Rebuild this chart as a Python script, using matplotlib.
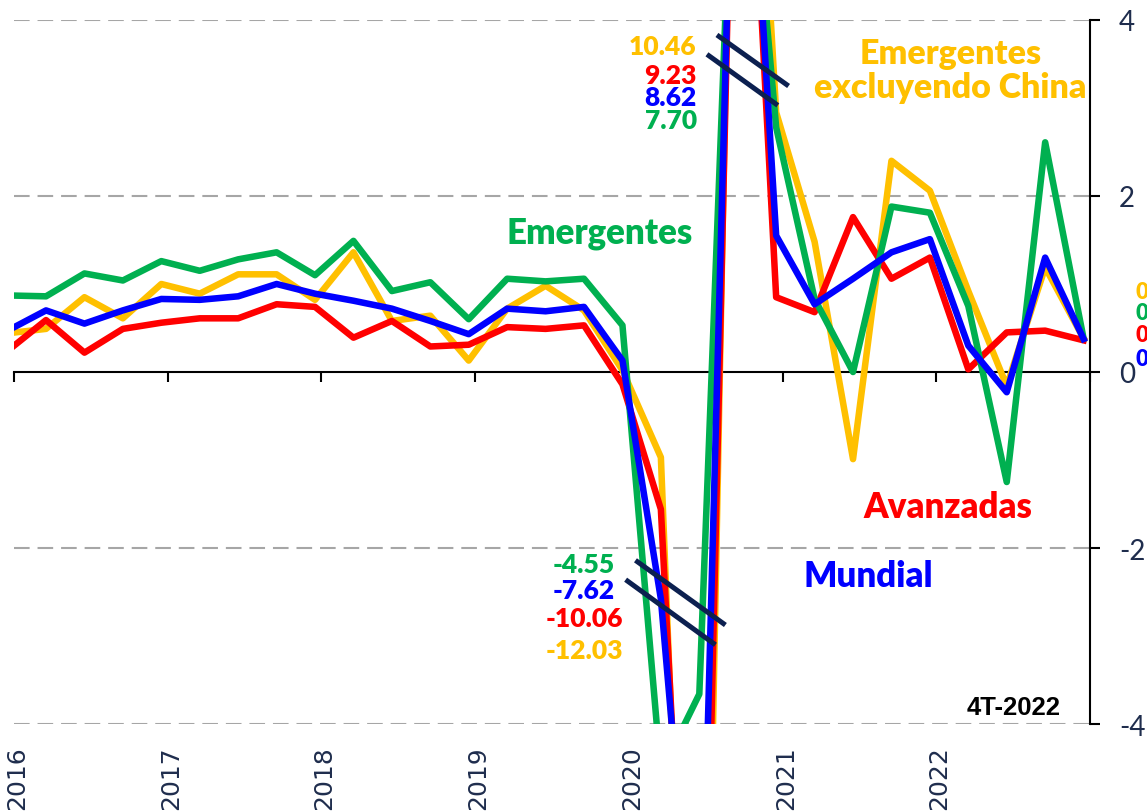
import numpy as np
import matplotlib
matplotlib.use("Agg")
import matplotlib.pyplot as plt
from matplotlib.transforms import blended_transform_factory

plt.rcParams['font.family'] = ['Lato', 'DejaVu Sans']

# ===================== DATA =====================
# quarterly growth (%), 4T-2015 ... 4T-2022
years = [2016, 2017, 2018, 2019, 2020, 2021, 2022]
n_q = 29
quarters = np.array([2015 + (k + 4) / 4 - 1 / 24 for k in range(n_q)])

emerg_ex_china = [0.44, 0.49, 0.85, 0.61, 1.00, 0.89, 1.11, 1.11, 0.82, 1.36,
                  0.58, 0.64, 0.13, 0.72, 0.98, 0.70, 0.02, -0.97, -12.03, 10.46,
                  2.95, 1.48, -0.99, 2.40, 2.06, 0.92, -0.16, 1.19, 0.38]
avanzadas = [0.24, 0.59, 0.22, 0.49, 0.56, 0.61, 0.61, 0.77, 0.74, 0.39,
             0.58, 0.29, 0.31, 0.51, 0.49, 0.53, -0.14, -1.56, -10.06, 9.23,
             0.85, 0.68, 1.76, 1.06, 1.30, 0.03, 0.45, 0.47, 0.36]
emergentes = [0.87, 0.86, 1.12, 1.04, 1.26, 1.15, 1.28, 1.36, 1.10, 1.49,
              0.92, 1.02, 0.60, 1.06, 1.03, 1.06, 0.53, -4.55, -3.66, 7.70,
              2.78, 0.83, 0.00, 1.88, 1.81, 0.75, -1.25, 2.61, 0.38]
mundial = [0.47, 0.70, 0.55, 0.70, 0.83, 0.82, 0.86, 1.00, 0.89, 0.81,
           0.72, 0.58, 0.43, 0.72, 0.69, 0.74, 0.13, -2.58, -7.62, 8.62,
           1.55, 0.77, 1.06, 1.36, 1.51, 0.30, -0.23, 1.30, 0.375]

last_labels = ['0.38', '0.38', '0.36', '0.37']

# ===================== STYLE =====================
YEL = '#FFC000'
GRN = '#00B050'
RED = '#FF0000'
BLU = '#0000FF'
NAVY = '#1F2D4D'
BRK = '#0C2050'
WT = 'heavy'

fig = plt.figure(figsize=(11.47, 8.12), dpi=100)
ax = fig.add_axes([14 / 1147, 1 - 725 / 812, (1090 - 14) / 1147, 704 / 812])

# grid
for g in [4, 2, -2, -4]:
    ax.axhline(g, color='#A6A6A6', lw=1.5, dashes=(7.5, 3.8), zorder=1)

# series
ax.plot(quarters, emerg_ex_china, color=YEL, lw=4.7, zorder=3)
ax.plot(quarters, avanzadas, color=RED, lw=4.7, zorder=4)
ax.plot(quarters, emergentes, color=GRN, lw=4.7, zorder=5)
ax.plot(quarters, mundial, color=BLU, lw=4.7, zorder=6)

ax.set_xlim(2016, 2023)
ax.set_ylim(-4, 4)

# axes
for s in ['top', 'left']:
    ax.spines[s].set_visible(False)
ax.spines['bottom'].set_position(('data', 0))
ax.spines['bottom'].set_linewidth(1.5)
ax.spines['right'].set_linewidth(1.5)
ax.spines['bottom'].set_zorder(2)

ax.set_xticks(years + [2023])
ax.tick_params(axis='x', direction='out', length=7, width=1.5, labelbottom=False)
ax.yaxis.tick_right()
ax.set_yticks([4, 2, 0, -2, -4])
ax.set_yticklabels(['4', '2', '0', '-2', '-4'])
ax.tick_params(axis='y', direction='out', length=7, width=1.5, pad=14,
               labelsize=20, labelcolor=NAVY)

# year labels at the bottom
trans = blended_transform_factory(ax.transData, ax.transAxes)
for y in years:
    ax.text(y + 0.02, -0.03, str(y), transform=trans, rotation=90, ha='center',
            va='top', fontsize=18, color=NAVY, family='DejaVu Sans')

# break marks
breaks = [((2020.573, 3.83), (2021.039, 3.25)),
          ((2020.508, 3.61), (2020.969, 3.03)),
          ((2020.043, -2.14), (2020.628, -2.875)),
          ((2019.979, -2.36), (2020.563, -3.10))]
for (x0, y0), (x1, y1) in breaks:
    ax.plot([x0, x1], [y0, y1], color=BRK, lw=3.6, zorder=8, solid_capstyle='butt')

# off-scale values
top_vals = [('10.46', YEL, 3.70), ('9.23', RED, 3.375), ('8.62', BLU, 3.13), ('7.70', GRN, 2.86)]
for txt, c, yy in top_vals:
    ax.text(2020.442, yy, txt, color=c, fontsize=19, fontweight=WT, ha='right', va='center')

bot_vals = [('-4.55', GRN, -2.18), ('-7.62', BLU, -2.477), ('-10.06', RED, -2.795), ('-12.03', YEL, -3.16)]
for txt, c, yy in bot_vals:
    ax.text(2019.708, yy, txt, color=c, fontsize=19, fontweight=WT, ha='center', va='center')

# series names
ax.text(2019.812, 1.58, 'Emergentes', color=GRN, fontsize=25, fontweight=WT, ha='center', va='center')
ax.text(2022.091, 3.43, 'Emergentes\nexcluyendo China', color=YEL, fontsize=24.5, fontweight=WT,
        ha='center', va='center', linespacing=1.1)
ax.text(2022.078, -1.534, 'Avanzadas', color=RED, fontsize=25, fontweight=WT, ha='center', va='center')
ax.text(2021.558, -2.318, 'Mundial', color=BLU, fontsize=25, fontweight=WT, ha='center', va='center')
ax.text(2022.812, -3.807, '4T-2022', color='black', fontsize=18.5, fontweight='bold', ha='right',
        va='center', family='Liberation Sans')

# last values (cut off at the right edge)
for txt, c, yy in zip(last_labels, [YEL, GRN, RED, BLU], [0.91, 0.68, 0.43, 0.15]):
    ax.text(2023.299, yy, txt, color=c, fontsize=16, fontweight=WT, ha='left', va='center')

fig.savefig('out.png', dpi=100)
